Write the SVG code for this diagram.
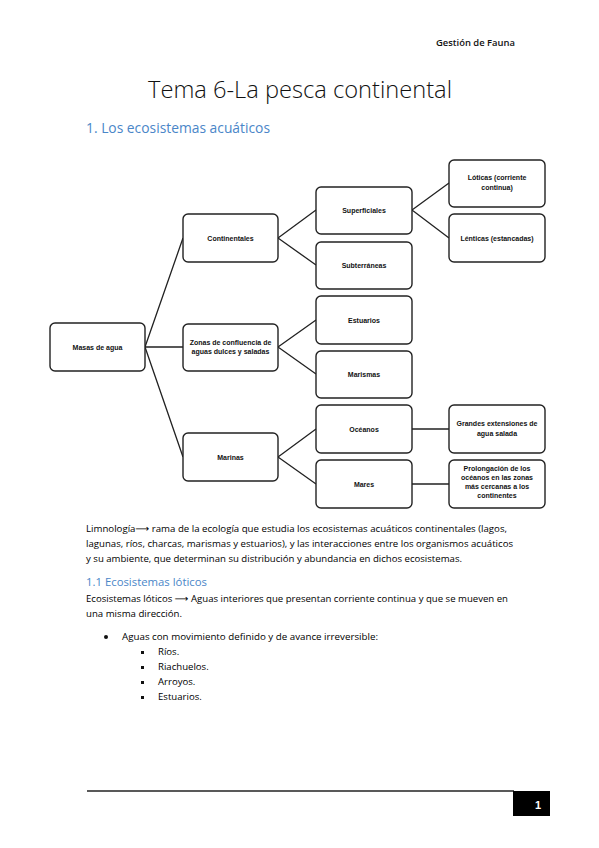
<svg xmlns="http://www.w3.org/2000/svg" width="599" height="848" viewBox="0 0 599 848">
<style>
.box{fill:#fff;stroke:#222;stroke-width:1.4}
.nt{font-family:"Liberation Sans",Arial,sans-serif;font-size:7px;font-weight:bold;fill:#111;text-anchor:middle}
.con{stroke:#222;stroke-width:1.3;fill:none}
.body{font-family:"Open Sans","Liberation Sans",sans-serif;font-size:9.6px;fill:#000}
.ar{font-family:"DejaVu Sans",sans-serif}
.h{font-family:"Open Sans","Liberation Sans",sans-serif;fill:#4a86c8}
</style>
<rect width="599" height="848" fill="#fff"/>
<text x="515" y="46" text-anchor="end" font-family="Open Sans, Liberation Sans, sans-serif" font-size="8.5" font-weight="600" fill="#111" textLength="79" lengthAdjust="spacingAndGlyphs">Gestión de Fauna</text>
<text x="300" y="98" text-anchor="middle" font-family="Open Sans, Liberation Sans, sans-serif" font-weight="300" font-size="24" fill="#111" textLength="304" lengthAdjust="spacingAndGlyphs">Tema 6-La pesca continental</text>
<text x="86" y="133" class="h" font-size="14" textLength="184" lengthAdjust="spacingAndGlyphs">1. Los ecosistemas acuáticos</text>

<g id="connectors">
<path class="con" d="M145,347 L183,238 M145,347 L183,347 M145,347 L183,457"/>
<path class="con" d="M278,238 L316,210 M278,238 L316,265"/>
<path class="con" d="M278,347 L316,320 M278,347 L316,374"/>
<path class="con" d="M278,457 L316,429 M278,457 L316,484"/>
<path class="con" d="M412,210 L449,183 M412,210 L449,238"/>
<path class="con" d="M412,429 L449,429 M412,484 L449,484"/>
</g>

<g id="masas"><rect class="box" x="50" y="323" width="95" height="48" rx="5"/><text class="nt" x="97.5" y="350">Masas de agua</text></g>
<g id="continentales"><rect class="box" x="183" y="214" width="95" height="48" rx="5"/><text class="nt" x="230.5" y="241">Continentales</text></g>
<g id="zonas"><rect class="box" x="183" y="324" width="95" height="47" rx="5"/><text class="nt" x="230.5" y="345">Zonas de confluencia de</text><text class="nt" x="230.5" y="354">aguas dulces y saladas</text></g>
<g id="marinas"><rect class="box" x="183" y="433" width="95" height="48" rx="5"/><text class="nt" x="230.5" y="460">Marinas</text></g>
<g id="superficiales"><rect class="box" x="316" y="187" width="96" height="47" rx="5"/><text class="nt" x="364" y="213">Superficiales</text></g>
<g id="subterraneas"><rect class="box" x="316" y="242" width="96" height="47" rx="5"/><text class="nt" x="364" y="268">Subterráneas</text></g>
<g id="estuarios"><rect class="box" x="316" y="296" width="96" height="48" rx="5"/><text class="nt" x="364" y="323">Estuarios</text></g>
<g id="marismas"><rect class="box" x="316" y="351" width="96" height="47" rx="5"/><text class="nt" x="364" y="377">Marismas</text></g>
<g id="oceanos"><rect class="box" x="316" y="405" width="96" height="48" rx="5"/><text class="nt" x="364" y="432">Océanos</text></g>
<g id="mares"><rect class="box" x="316" y="460" width="96" height="48" rx="5"/><text class="nt" x="364" y="487">Mares</text></g>
<g id="loticas"><rect class="box" x="449" y="160" width="96" height="47" rx="5"/><text class="nt" x="497" y="180">Lóticas (corriente</text><text class="nt" x="497" y="190">continua)</text></g>
<g id="lenticas"><rect class="box" x="449" y="214" width="96" height="48" rx="5"/><text class="nt" x="497" y="241">Lénticas (estancadas)</text></g>
<g id="grandes"><rect class="box" x="449" y="405" width="96" height="48" rx="5"/><text class="nt" x="497" y="426">Grandes extensiones de</text><text class="nt" x="497" y="436">agua salada</text></g>
<g id="prolongacion"><rect class="box" x="449" y="460" width="96" height="48" rx="5"/><text class="nt" x="497" y="471">Prolongación de los</text><text class="nt" x="497" y="480">océanos en las zonas</text><text class="nt" x="497" y="489">más cercanas a los</text><text class="nt" x="497" y="498">continentes</text></g>

<g id="body">
<text class="body" x="86" y="532" textLength="421" lengthAdjust="spacingAndGlyphs">Limnología<tspan class="ar">⟶</tspan> rama de la ecología que estudia los ecosistemas acuáticos continentales (lagos,</text>
<text class="body" x="86" y="547" textLength="427" lengthAdjust="spacingAndGlyphs">lagunas, ríos, charcas, marismas y estuarios), y las interacciones entre los organismos acuáticos</text>
<text class="body" x="86" y="562" textLength="376" lengthAdjust="spacingAndGlyphs">y su ambiente, que determinan su distribución y abundancia en dichos ecosistemas.</text>
<text class="h" x="86" y="586" font-size="11.5" textLength="121" lengthAdjust="spacingAndGlyphs">1.1 Ecosistemas lóticos</text>
<text class="body" x="86" y="602" textLength="422" lengthAdjust="spacingAndGlyphs">Ecosistemas lóticos <tspan class="ar">⟶</tspan> Aguas interiores que presentan corriente continua y que se mueven en</text>
<text class="body" x="86" y="617" textLength="96" lengthAdjust="spacingAndGlyphs">una misma dirección.</text>
<circle cx="106" cy="637" r="2" fill="#111"/>
<text class="body" x="122" y="640" textLength="256" lengthAdjust="spacingAndGlyphs">Aguas con movimiento definido y de avance irreversible:</text>
<rect x="141" y="651" width="3" height="3" fill="#111"/>
<text class="body" x="158" y="655">Ríos.</text>
<rect x="141" y="666" width="3" height="3" fill="#111"/>
<text class="body" x="158" y="670">Riachuelos.</text>
<rect x="141" y="681" width="3" height="3" fill="#111"/>
<text class="body" x="158" y="685">Arroyos.</text>
<rect x="141" y="696" width="3" height="3" fill="#111"/>
<text class="body" x="158" y="700">Estuarios.</text>
</g>

<line x1="87" y1="791" x2="514" y2="791" stroke="#222" stroke-width="1.3"/>
<rect x="513" y="791" width="37" height="25" fill="#000"/>
<text x="538" y="809" text-anchor="middle" font-family="Liberation Sans, sans-serif" font-weight="bold" font-size="11" fill="#fff">1</text>
</svg>
